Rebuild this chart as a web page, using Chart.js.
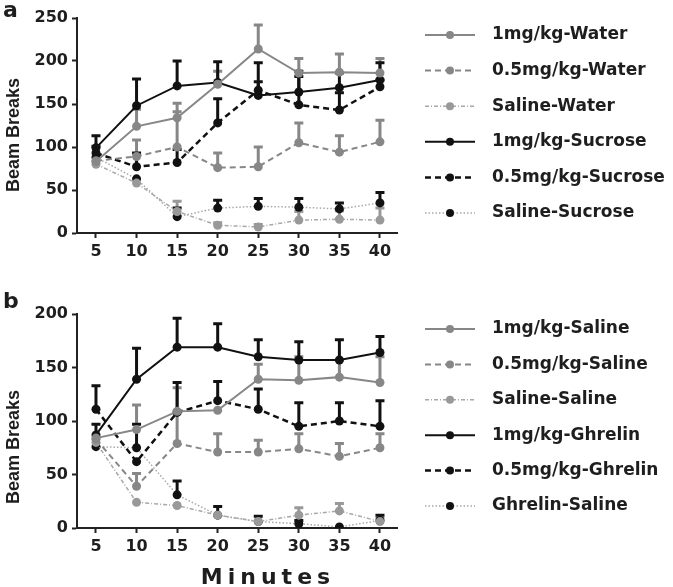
<!DOCTYPE html>
<html><head><meta charset="utf-8">
<script src="https://cdn.jsdelivr.net/npm/chart.js@4/dist/chart.umd.min.js"></script>
<style>
html,body{margin:0;padding:0;background:#fff;}
#wrap{position:relative;width:673px;height:587px;overflow:hidden;}
canvas{position:absolute;left:0;}
</style></head><body>
<div id="wrap">
<canvas id="ca" width="673" height="285" style="top:0px"></canvas>
<canvas id="cb" width="673" height="302" style="top:285px"></canvas>
</div>
<script>
// ---------- data ----------
const minutes = [5, 10, 15, 20, 25, 30, 35, 40];

// Panel a (mean, SEM upper)
const namesA = ['1mg/kg-Water', '0.5mg/kg-Water', 'Saline-Water', '1mg/kg-Sucrose', '0.5mg/kg-Sucrose', 'Saline-Sucrose'];
const a1mgWater      = [83, 124, 134, 173, 214, 186, 187, 186];
const a1mgWaterSem   = [0, 20, 17, 15, 28, 17, 21, 17];
const a05mgWater     = [84, 89, 100, 76, 77, 105, 94, 106];
const a05mgWaterSem  = [0, 19, 41, 17, 23, 23, 19, 25];
const aSalWater      = [80, 58, 25, 9, 7, 15, 16, 15];
const aSalWaterSem   = [0, 0, 12, 3, 3, 10, 10, 14];
const a1mgSucrose    = [99, 148, 171, 175, 160, 164, 169, 178];
const a1mgSucroseSem = [14, 31, 29, 24, 38, 24, 17, 20];
const a05mgSucrose   = [93, 77, 82, 128, 166, 149, 143, 170];
const a05mgSucroseSem= [8, 16, 15, 28, 10, 33, 20, 8];
const aSalSucrose    = [88, 63, 19, 29, 31, 30, 28, 35];
const aSalSucroseSem = [0, 0, 10, 9, 9, 10, 7, 12];

// Panel b
const namesB = ['1mg/kg-Saline', '0.5mg/kg-Saline', 'Saline-Saline', '1mg/kg-Ghrelin', '0.5mg/kg-Ghrelin', 'Ghrelin-Saline'];
const b1mgSaline      = [84, 92, 109, 110, 139, 138, 141, 136];
const b1mgSalineSem   = [0, 23, 22, 0, 14, 22, 16, 24];
const b05mgSaline     = [83, 39, 79, 71, 71, 74, 67, 75];
const b05mgSalineSem  = [0, 12, 30, 17, 11, 14, 12, 13];
const bSalSaline      = [80, 24, 21, 12, 6, 12, 16, 6];
const bSalSalineSem   = [0, 0, 0, 0, 0, 7, 7, 3];
const b1mgGhrelin     = [87, 139, 169, 169, 160, 157, 157, 164];
const b1mgGhrelinSem  = [10, 29, 27, 22, 16, 17, 19, 15];
const b05mgGhrelin    = [111, 62, 108, 119, 111, 95, 100, 95];
const b05mgGhrelinSem = [22, 0, 28, 18, 19, 22, 17, 24];
const bGhrSaline      = [76, 75, 31, 12, 6, 4, 1, 7];
const bGhrSalineSem   = [0, 22, 13, 8, 5, 3, 0, 5];

// ---------- styles ----------
const GRAY = '#878787', BLACK = '#111111', LGRAY = '#a8a8a8';
const styles = [
  {line: GRAY,  dash: [],          width: 2,   point: GRAY},
  {line: GRAY,  dash: [6, 4],      width: 2,   point: GRAY},
  {line: LGRAY, dash: [4, 2, 1, 2],width: 1.5, point: '#999999'},
  {line: BLACK, dash: [],          width: 2,   point: BLACK},
  {line: BLACK, dash: [6, 4],      width: 2.5, point: BLACK},
  {line: LGRAY, dash: [1.5, 2],    width: 1.5, point: BLACK}
];
const TXT = '#1e1e1e';

const errorBars = {
  id: 'errorBars',
  beforeDatasetsDraw(chart) {
    const ctx = chart.ctx, ys = chart.scales.y;
    chart.data.datasets.forEach((ds, i) => {
      const meta = chart.getDatasetMeta(i);
      ctx.save();
      ctx.strokeStyle = ds.pointBackgroundColor;
      ctx.lineWidth = 3;
      ctx.setLineDash([]);
      meta.data.forEach((pt, j) => {
        const e = ds.sem[j];
        if (!e) return;
        const y0 = ys.getPixelForValue(ds.data[j].y);
        const y1 = ys.getPixelForValue(ds.data[j].y + e);
        ctx.beginPath();
        ctx.moveTo(pt.x, y0); ctx.lineTo(pt.x, y1);
        ctx.moveTo(pt.x - 4.5, y1); ctx.lineTo(pt.x + 4.5, y1);
        ctx.stroke();
      });
      ctx.restore();
    });
  }
};

// legend drawn beside the plot from the datasets' own labels and styles
const sideLegend = {
  id: 'sideLegend',
  afterDraw(chart, args, opts) {
    const ctx = chart.ctx;
    chart.data.datasets.forEach((ds, i) => {
      const y = opts.y0 + i * opts.step;
      ctx.save();
      ctx.strokeStyle = ds.borderColor;
      ctx.lineWidth = ds.borderWidth;
      ctx.setLineDash(ds.borderDash);
      ctx.beginPath(); ctx.moveTo(opts.x0, y); ctx.lineTo(opts.x0 + 50, y); ctx.stroke();
      ctx.setLineDash([]);
      ctx.fillStyle = ds.pointBackgroundColor;
      ctx.beginPath(); ctx.arc(opts.x0 + 25, y, 4, 0, Math.PI * 2); ctx.fill();
      ctx.font = 'bold 17px "DejaVu Sans"';
      ctx.fillStyle = TXT;
      ctx.textBaseline = 'middle';
      ctx.textAlign = 'left';
      ctx.fillText(ds.label, opts.textX, y);
      ctx.restore();
    });
  }
};

const annot = {
  id: 'annot',
  afterDraw(chart, args, opts) {
    const ctx = chart.ctx;
    (opts.texts || []).forEach(t => {
      ctx.save();
      ctx.font = t.font; ctx.fillStyle = TXT;
      if (t.spacing) ctx.letterSpacing = t.spacing;
      ctx.textAlign = t.align || 'left';
      ctx.textBaseline = t.baseline || 'alphabetic';
      ctx.translate(t.x, t.y);
      if (t.rot) ctx.rotate(t.rot);
      ctx.fillText(t.text, 0, 0);
      ctx.restore();
    });
  }
};

function buildDatasets(names, series, sems) {
  return names.map((n, i) => ({
    label: n,
    data: minutes.map((m, j) => ({x: m, y: series[i][j]})),
    sem: sems[i],
    borderColor: styles[i].line,
    borderWidth: styles[i].width,
    borderDash: styles[i].dash,
    pointBackgroundColor: styles[i].point,
    pointBorderColor: styles[i].point,
    pointRadius: 4.5,
    pointBorderWidth: 0,
    pointStyle: 'circle',
    fill: false,
    tension: 0
  }));
}

const tickFont = {family: 'DejaVu Sans', weight: 'bold', size: 16};

function makeChart(id, names, series, sems, yMax, padTop, xScaleH, legendY0, legendStep, texts) {
  return new Chart(document.getElementById(id), {
    type: 'line',
    data: {datasets: buildDatasets(names, series, sems)},
    options: {
      responsive: false,
      animation: false,
      devicePixelRatio: 1,
      layout: {padding: {top: padTop, right: 276, left: 0, bottom: 0}},
      scales: {
        x: {
          type: 'linear', min: 2.66, max: 42.1,
          afterFit: s => { s.height = xScaleH; },
          ticks: {stepSize: 5, includeBounds: false, font: tickFont, color: TXT, padding: 4},
          grid: {drawOnChartArea: false, drawTicks: true, tickLength: 5, tickWidth: 2, tickColor: '#222'},
          border: {color: '#222', width: 2}
        },
        y: {
          min: 0, max: yMax,
          afterFit: s => { s.width = 77; },
          ticks: {stepSize: 50, font: tickFont, color: TXT, padding: 4},
          grid: {drawOnChartArea: false, drawTicks: true, tickLength: 5, tickWidth: 2, tickColor: '#222'},
          border: {color: '#222', width: 2}
        }
      },
      plugins: {
        tooltip: {enabled: false},
        legend: {display: false},
        sideLegend: {x0: 425, textX: 492, y0: legendY0, step: legendStep},
        annot: {texts: texts}
      }
    },
    plugins: [errorBars, sideLegend, annot]
  });
}

makeChart('ca', namesA,
  [a1mgWater, a05mgWater, aSalWater, a1mgSucrose, a05mgSucrose, aSalSucrose],
  [a1mgWaterSem, a05mgWaterSem, aSalWaterSem, a1mgSucroseSem, a05mgSucroseSem, aSalSucroseSem],
  250, 18, 52, 35, 35.6,
  [
    {text: 'a', x: 3, y: 17, font: 'bold 22px "DejaVu Sans"'},
    {text: 'Beam Breaks', x: 19, y: 135, rot: -Math.PI / 2, align: 'center', font: 'bold 18px "Liberation Sans"'}
  ]);

makeChart('cb', namesB,
  [b1mgSaline, b05mgSaline, bSalSaline, b1mgGhrelin, b05mgGhrelin, bGhrSaline],
  [b1mgSalineSem, b05mgSalineSem, bSalSalineSem, b1mgGhrelinSem, b05mgGhrelinSem, bGhrSalineSem],
  200, 29, 59, 44, 35.4,
  [
    {text: 'b', x: 3, y: 23, font: 'bold 22px "DejaVu Sans"'},
    {text: 'Beam Breaks', x: 19, y: 162, rot: -Math.PI / 2, align: 'center', font: 'bold 18px "Liberation Sans"'},
    {text: 'Minutes', x: 268, y: 299, align: 'center', spacing: '5px', font: 'bold 22px "DejaVu Sans"'}
  ]);
</script>
</body></html>
